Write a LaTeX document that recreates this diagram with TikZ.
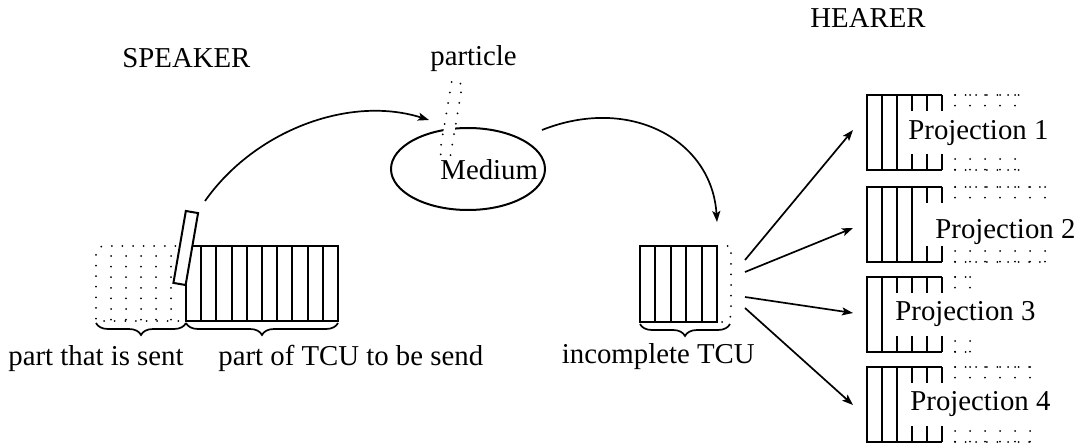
\documentclass[tikz,border=0pt]{standalone}
\usepackage{fontspec}
\setmainfont{Liberation Serif}
\usetikzlibrary{arrows.meta,decorations.pathreplacing,shapes.geometric}

\begin{document}
\begin{tikzpicture}[x=0.5pt,y=-0.5pt,
  boxline/.style={line width=1pt},
  dotline/.style={line width=1pt, line cap=round, dash pattern=on 0pt off 5.3pt},
  arr/.style={line width=0.85pt, -{Stealth[length=5.5pt,width=4pt,inset=1.2pt]}},
  brc/.style={line width=0.85pt, decorate, decoration={brace, mirror, amplitude=6pt}},
  lbl/.style={inner sep=0pt, anchor=base west, font=\fontsize{14.4}{17}\selectfont},
  pics/projblock/.style n args={3}{code={
    % solid cells: outline, full-height dividers, short stubs
    \draw[boxline] (75,0) -- (0,0) -- (0,75) -- (75,75);
    \foreach \xx in {#1} \draw[boxline] (\xx,0) -- (\xx,75);
    \foreach \xx in {#2} {
      \draw[boxline] (\xx,0) -- (\xx,16);
      \draw[boxline] (\xx,59) -- (\xx,75);
    }
    % dotted continuation
    \draw[dotline] (88,0) -- (#3,0);
    \draw[dotline] (88,75) -- (#3,75);
    \foreach \xx in {88,103,...,#3} {
      \draw[dotline] (\xx,0) -- (\xx,11);
      \draw[dotline] (\xx,64) -- (\xx,75);
    }
  }},
]
\useasboundingbox (0,0) rectangle (1077,444);

% headings
\node[lbl] (speaker) at (122,68) {SPEAKER};
\node[lbl] (hearer) at (810,28) {HEARER};
\node[lbl] (particletxt) at (430,66) {particle};

% speaker side: already sent part (dotted) and part still to send (solid)
\draw[dotline] (186,246) [rounded corners=4pt] -- (96,246) [sharp corners] -- (96,321) -- (186,321);
\foreach \xx in {111,126,141,156,171} \draw[dotline] (\xx,256) -- (\xx,321);
\draw[boxline] (186,246) rectangle (338,321);
\foreach \i in {1,...,9} \draw[boxline] (186+15.2*\i,246) -- (186+15.2*\i,321);
\node[draw, boxline, fill=white, minimum width=36.5pt, minimum height=6.2pt,
      inner sep=0pt, rotate=80.2] (sent) at (185.75,248) {};

\draw[brc] (96,323) -- (186,323);
\draw[brc] (186,323) -- (338,323);
\node[lbl] (sentlbl) at (8,365) {part that is sent};
\node[lbl] (tosendlbl) at (218,365) {part of TCU to be send};

% medium with the particle crossing it
\node[ellipse, draw, boxline, minimum width=77pt, minimum height=41pt, inner sep=0pt] (medium) at (468,169) {};
\node[lbl] (mediumtxt) at (440,180) {Medium};
\node[draw, dotline, fill=white, minimum width=36.5pt, minimum height=5.5pt,
      inner sep=0pt, rotate=80.5] (particle) at (451,119) {};

% hearer side: incomplete TCU
\draw[dotline] (717,246) -- (731,246) [rounded corners=4pt] -- (731,322) [sharp corners] -- (717,322);
\draw[boxline] (640,246) rectangle (717,322);
\foreach \i in {1,...,4} \draw[boxline] (640+15.4*\i,246) -- (640+15.4*\i,322);
\draw[brc] (640,324) -- (730,324);
\node[inner sep=0pt, anchor=base east, font=\fontsize{14.4}{17}\selectfont] (inclbl) at (755,363) {incomplete TCU};

% projections
\pic (p1) at (867,95)  {projblock={15,30}{45,60,75}{153}};
\pic (p2) at (867,187) {projblock={15,30,45}{60,75}{183}};
\pic (p3) at (867,277) {projblock={15}{30,45,60,75}{106}};
\pic (p4) at (867,367) {projblock={15,30}{45,60,75}{168}};
\node[lbl] (proj1) at (908,140) {Projection 1};
\node[lbl] (proj2) at (935,238) {Projection 2};
\node[lbl] (proj3) at (895,320) {Projection 3};
\node[lbl] (proj4) at (910,410) {Projection 4};

% connectors
\coordinate (a1s) at (205,201);
\coordinate (a1e) at (429,120);
\coordinate (a2s) at (542,130);
\coordinate (a2e) at (717,222);
\draw[arr] (a1s) .. controls (255,130) and (350,95) .. (a1e);
\draw[arr] (a2s) .. controls (630,95) and (712,140) .. (a2e);

\coordinate (f1) at (745,260);
\coordinate (f2) at (745,272);
\coordinate (f3) at (745,297);
\coordinate (f4) at (745,308);
\coordinate (t1) at (853,130);
\coordinate (t2) at (853,228);
\coordinate (t3) at (853,313);
\coordinate (t4) at (853,405);
\draw[arr] (f1) -- (t1);
\draw[arr] (f2) -- (t2);
\draw[arr] (f3) -- (t3);
\draw[arr] (f4) -- (t4);
\end{tikzpicture}
\end{document}
